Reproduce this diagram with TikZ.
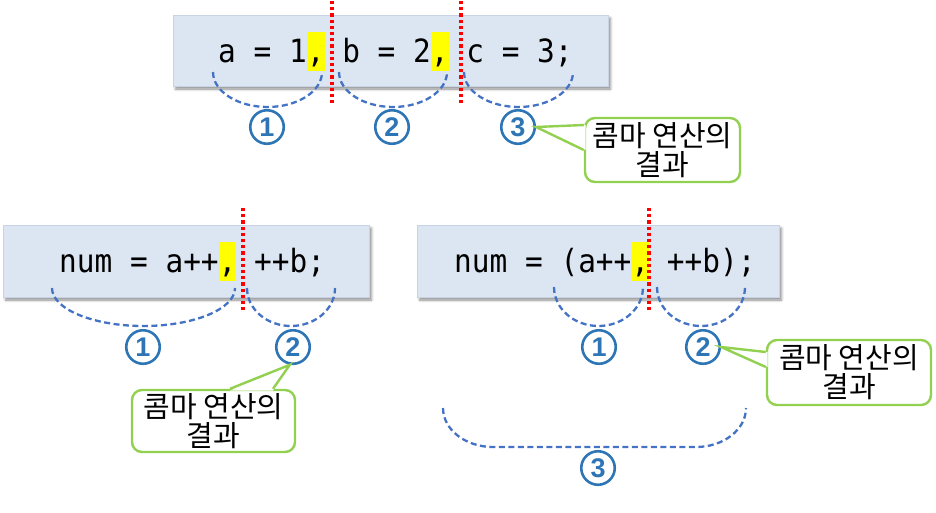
\documentclass[tikz,border=0pt]{standalone}
\usepackage{fontspec}
\usetikzlibrary{calc,shadows.blur}
\setmonofont[FakeStretch=0.92]{DejaVu Sans Mono}
\newfontfamily\krfont{Noto Sans CJK KR}
\newfontfamily\numfont{Liberation Sans}
\definecolor{boxfill}{RGB}{220,230,242}
\definecolor{boxedge}{RGB}{200,212,228}
\definecolor{hly}{RGB}{255,255,0}
\definecolor{redline}{RGB}{255,0,0}
\definecolor{arcblue}{RGB}{68,114,196}
\definecolor{numblue}{RGB}{46,117,182}
\definecolor{callgreen}{RGB}{146,208,80}
\newcommand\hlc[1]{\rlap{\textcolor{hly}{\rule[-9pt]{17.7pt}{39pt}}}#1}
\newcommand\darc[5]{\draw[arcline] (#1,-#3) .. controls (#1,{-#3-0.552*(#4-#3)}) and ({#1+0.448*#5},-#4) .. ({#1+#5},-#4) -- ({#2-#5},-#4) .. controls ({#2-0.448*#5},-#4) and (#2,{-#3-0.552*(#4-#3)}) .. (#2,-#3);}
\tikzset{
  codebox/.style={draw=boxedge, line width=0.6pt, fill=boxfill, inner sep=0pt,
    blur shadow={shadow xshift=2.5pt, shadow yshift=-3pt, shadow blur radius=2.5pt, shadow opacity=45}},
  codetext/.style={anchor=base west, inner sep=0pt, font=\ttfamily\fontsize{32}{36}\selectfont},
  redcut/.style={draw=redline, line width=3.6pt, dash pattern=on 3.2pt off 3pt},
  arcline/.style={draw=arcblue, line width=2.3pt, dash pattern=on 6pt off 3.5pt},
  num/.style={circle, draw=numblue, line width=2.6pt, minimum size=33.5pt, inner sep=0pt,
    text=numblue, font=\numfont\bfseries\fontsize{27}{27}\selectfont},
  callout/.style={draw=callgreen, line width=2.4pt, fill=white, rounded corners=10pt,
    inner sep=0pt, align=center, font=\krfont\fontsize{29}{29}\selectfont},
  pointer/.style={draw=callgreen, line width=2.4pt, line join=miter},
}
\begin{document}
\begin{tikzpicture}[x=1pt,y=1pt]
\useasboundingbox (0,0) rectangle (936,-512);
% ---------- top ----------
\node[codebox, minimum width=435pt, minimum height=71pt] (box1) at (390.5,-50.5) {};
\node[codetext] (t1) at (218,-62) {a = 1\hlc{,} b = 2\hlc{,} c = 3;};
\coordinate (r1a) at (332,-1); \coordinate (r1b) at (332,-104);
\coordinate (r2a) at (461,-1); \coordinate (r2b) at (461,-104);
\draw[redcut] (r1a) -- (r1b);
\draw[redcut] (r2a) -- (r2b);
\darc{213}{322}{72}{107}{54.5}
\darc{339}{447}{72}{107}{54}
\darc{464}{573}{72}{107}{54.5}
\node[num] (a1) at (267,-127) {1};
\node[num] (a2) at (392,-127) {2};
\node[num] (a3) at (518,-127) {3};
\node[callout, minimum width=155pt, minimum height=64pt] (k1) at (662.5,-150) {콤마 연산의\\결과};
\fill[white] ($(k1.west)+(1.8,25)$) -- (a3.east) -- ($(k1.west)+(1.8,0)$) -- cycle;
\draw[pointer] ($(k1.west)+(0,25)$) -- (a3.east) -- ($(k1.west)+(0,0)$);
% ---------- middle left ----------
\node[codebox, minimum width=366pt, minimum height=72pt] (box2) at (186,-261) {};
\node[codetext] (t2) at (59,-272) {num = a++\hlc{,} ++b;};
\coordinate (r3a) at (243,-208); \coordinate (r3b) at (243,-313);
\draw[redcut] (r3a) -- (r3b);
\darc{52}{235}{288}{326}{91.5}
\darc{247}{335}{288}{326}{44}
\node[num] (b1) at (143,-347) {1};
\node[num] (b2) at (293,-347) {2};
\node[callout, minimum width=163pt, minimum height=62pt] (k2) at (213.5,-421) {콤마 연산의\\결과};
\fill[white] ($(k2.north)+(16.5,-1.8)$) -- (b2.-100) -- ($(k2.north)+(59.5,-1.8)$) -- cycle;
\draw[pointer] ($(k2.north)+(16.5,0)$) -- (b2.-100) -- ($(k2.north)+(59.5,0)$);
% ---------- middle right ----------
\node[codebox, minimum width=362pt, minimum height=72pt] (box3) at (598,-261) {};
\node[codetext] (t3) at (454,-272) {num = (a++\hlc{,} ++b);};
\coordinate (r4a) at (649,-208); \coordinate (r4b) at (649,-312);
\draw[redcut] (r4a) -- (r4b);
\darc{554}{643}{287}{326}{44.5}
\darc{657}{745}{287}{326}{44}
\darc{443}{746}{408}{447}{50}
\node[num] (d1) at (599,-347) {1};
\node[num] (d2) at (703,-347) {2};
\node[num] (d3) at (598,-468) {3};
\node[callout, minimum width=164pt, minimum height=65pt] (k3) at (849,-372.5) {콤마 연산의\\결과};
\fill[white] ($(k3.west)+(1.8,20.5)$) -- (d2.east) -- ($(k3.west)+(1.8,5.5)$) -- cycle;
\draw[pointer] ($(k3.west)+(0,20.5)$) -- (d2.east) -- ($(k3.west)+(0,5.5)$);
\end{tikzpicture}
\end{document}
